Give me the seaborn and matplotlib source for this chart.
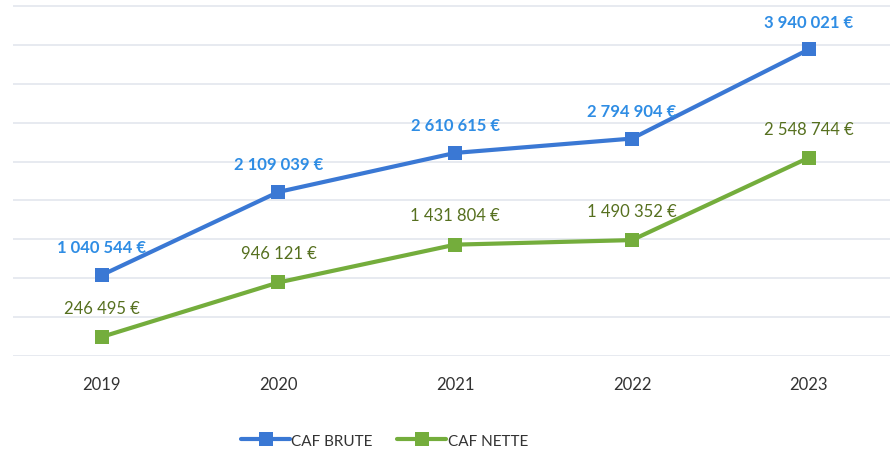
import matplotlib
matplotlib.use("Agg")
import matplotlib.pyplot as plt
import seaborn as sns
import pandas as pd
import numpy as np

years = ["2019", "2020", "2021", "2022", "2023"]
caf_brute = [1040544, 2109039, 2610615, 2794904, 3940021]
caf_nette = [246495, 946121, 1431804, 1490352, 2548744]

df = pd.DataFrame({
    "year": years * 2,
    "value": caf_brute + caf_nette,
    "serie": ["CAF BRUTE"] * 5 + ["CAF NETTE"] * 5,
})

sns.set_theme(style="white")
plt.rcParams["font.family"] = ["Lato", "DejaVu Sans"]

blue = "#3a78d4"
green = "#74ad3c"
palette = {"CAF BRUTE": blue, "CAF NETTE": green}

fig = plt.figure(figsize=(8.9, 4.52), dpi=100)
ax = fig.add_axes([0.015, 0.21, 0.993, 0.78])

sns.lineplot(data=df, x="year", y="value", hue="serie", palette=palette,
             marker="s", markersize=10, markeredgewidth=0, linewidth=3,
             ax=ax, sort=False)

def fmt(v):
    return f"{v:,}".replace(",", " ") + " €"

for i, v in enumerate(caf_brute):
    ax.annotate(fmt(v), (i, v), xytext=(0, 20), textcoords="offset points",
                ha="center", va="center", fontsize=12, fontweight="bold",
                color="#2f8de4")
for i, v in enumerate(caf_nette):
    ax.annotate(fmt(v), (i, v), xytext=(0, 21), textcoords="offset points",
                ha="center", va="center", fontsize=12, color="#56701f")

ax.set_xlim(-0.5, 4.5)
ax.set_ylim(0, 4530000)
ax.set_yticks(np.arange(0, 4500001, 500000))
ax.set_yticklabels([])
ax.grid(axis="y", color="#e3e6ee", linewidth=1.2)
ax.grid(axis="x", visible=False)
for s in ax.spines.values():
    s.set_visible(False)
ax.tick_params(axis="x", length=0, labelsize=12, pad=14, labelcolor="#333333")
ax.tick_params(axis="y", length=0)
ax.set_xlabel("")
ax.set_ylabel("")

handles, labels = ax.get_legend_handles_labels()
ax.legend(handles, labels, loc="center", bbox_to_anchor=(0.42, -0.24),
          ncol=2, frameon=False, fontsize=11, handlelength=3.2,
          handletextpad=0.1, columnspacing=1.6, labelcolor="#333333")

fig.savefig("out.png", dpi=100)
